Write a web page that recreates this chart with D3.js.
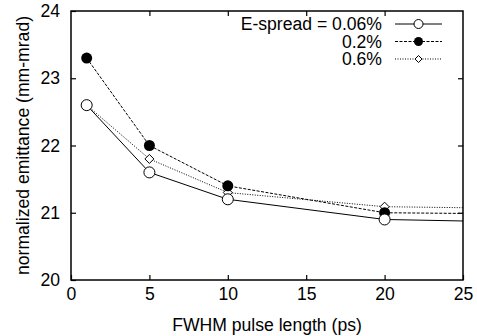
<!DOCTYPE html>
<html>
<head>
<meta charset="utf-8">
<script src="https://cdn.jsdelivr.net/npm/d3@7"></script>
<style>
  body { margin: 0; background: #fff; }
  text { font-family: "Liberation Sans", Arial, sans-serif; fill: #000; }
</style>
</head>
<body>
<script>
var width = 477,
    height = 336;

var margin = {left: 71, right: 14, top: 11, bottom: 56};
var fontSize = 17.6;

// pulse length (ps)
var pulseLength = [1, 5, 10, 20, 40];
// normalized emittance for each energy spread
var emit006 = [22.6, 21.6, 21.2, 20.9, 20.81];
var emit02  = [23.3, 22.0, 21.4, 21.0, 20.96];
var emit06  = [22.6, 21.8, 21.3, 21.09, 21.03];

var seriesLabels = ["E-spread = 0.06%", "0.2%", "0.6%"];
var xTicks = [0, 5, 10, 15, 20, 25];
var yTicks = [20, 21, 22, 23, 24];

var series = [
  {name: seriesLabels[0], values: emit006, dash: null, marker: "open"},
  {name: seriesLabels[1], values: emit02, dash: "3,1.5", marker: "filled"},
  {name: seriesLabels[2], values: emit06, dash: "1,1.5", marker: "diamond"}
];

var svg = d3.select("body").append("svg")
    .attr("width", width)
    .attr("height", height);

var x = d3.scaleLinear().domain([0, 25]).range([margin.left, width - margin.right]);
var y = d3.scaleLinear().domain([20, 24]).range([height - margin.bottom, margin.top]);

svg.append("clipPath").attr("id", "clip")
  .append("rect")
    .attr("x", x(0)).attr("y", y(24))
    .attr("width", x(25) - x(0)).attr("height", y(20) - y(24));

// axes with inward ticks, mirrored on top and right
var tickLen = 5;
svg.append("g")
    .attr("transform", "translate(0," + y(20) + ")")
    .call(d3.axisBottom(x).tickValues(xTicks).tickSizeInner(-tickLen).tickSizeOuter(0).tickPadding(8).tickFormat(d3.format("d")))
    .call(function(g){ g.select(".domain").remove(); g.selectAll("text").attr("dy", "0.71em"); });

svg.append("g")
    .attr("transform", "translate(0," + y(24) + ")")
    .call(d3.axisTop(x).tickValues(xTicks.slice(1, -1)).tickSizeInner(-tickLen).tickSizeOuter(0).tickFormat(""))
    .call(function(g){ g.select(".domain").remove(); });

svg.append("g")
    .attr("transform", "translate(" + x(0) + ",0)")
    .call(d3.axisLeft(y).tickValues(yTicks).tickSizeInner(-tickLen).tickSizeOuter(0).tickPadding(11).tickFormat(d3.format("d")))
    .call(function(g){ g.select(".domain").remove(); });

svg.append("g")
    .attr("transform", "translate(" + x(25) + ",0)")
    .call(d3.axisRight(y).tickValues(yTicks.slice(1, -1)).tickSizeInner(-tickLen).tickSizeOuter(0).tickFormat(""))
    .call(function(g){ g.select(".domain").remove(); });

svg.selectAll(".tick line").attr("stroke", "#000").attr("stroke-width", 1.2);
svg.selectAll(".tick text")
    .attr("font-family", "Liberation Sans, Arial, sans-serif")
    .attr("font-size", fontSize);

svg.append("rect")
    .attr("x", x(0)).attr("y", y(24))
    .attr("width", x(25) - x(0)).attr("height", y(20) - y(24))
    .attr("fill", "none").attr("stroke", "#000").attr("stroke-width", 1.5);

// axis titles
svg.append("text")
    .attr("x", (x(0) + x(25)) / 2)
    .attr("y", 331)
    .attr("text-anchor", "middle")
    .attr("font-size", fontSize)
    .text("FWHM pulse length (ps)");

svg.append("text")
    .attr("transform", "translate(29," + ((y(20) + y(24)) / 2) + ") rotate(-90)")
    .attr("text-anchor", "middle")
    .attr("font-size", fontSize)
    .text("normalized emittance (mm-mrad)");

var line = d3.line()
    .x(function(d){ return x(d.x); })
    .y(function(d){ return y(d.y); });

function drawMarker(g, type, cx, cy, r)
{
  if(type == "open")
    g.append("circle").attr("cx", cx).attr("cy", cy).attr("r", r)
      .attr("fill", "#fff").attr("stroke", "#000").attr("stroke-width", 1);
  else if(type == "filled")
    g.append("circle").attr("cx", cx).attr("cy", cy).attr("r", r)
      .attr("fill", "#000");
  else
  {
    var h = r - 1;
    g.append("path").attr("d", "M" + cx + "," + (cy - h) + "L" + (cx + h) + "," + cy + "L" + cx + "," + (cy + h) + "L" + (cx - h) + "," + cy + "Z")
      .attr("fill", "#fff").attr("stroke", "#000").attr("stroke-width", 1);
  }
}

var plot = svg.append("g").attr("clip-path", "url(#clip)");

// draw in reverse so the open circles sit on top like the original
series.slice().reverse().forEach(function(s)
{
  var pts = pulseLength.map(function(p, i){ return {x: p, y: s.values[i]}; });
  plot.append("path")
    .datum(pts)
    .attr("d", line)
    .attr("fill", "none")
    .attr("stroke", "#000")
    .attr("stroke-width", 1)
    .attr("stroke-dasharray", s.dash);
  pts.forEach(function(d){ drawMarker(plot, s.marker, x(d.x), y(d.y), 5.5); });
});

// legend
var legX1 = 395, legX2 = 442, legTextX = 382;
series.forEach(function(s, i)
{
  var ly = 24 + i * 17.5;
  svg.append("text")
    .attr("x", legTextX).attr("y", ly + 6)
    .attr("text-anchor", "end")
    .attr("font-size", fontSize)
    .text(s.name);
  svg.append("line")
    .attr("x1", legX1).attr("x2", legX2).attr("y1", ly).attr("y2", ly)
    .attr("stroke", "#000").attr("stroke-width", 1)
    .attr("stroke-dasharray", s.dash);
  drawMarker(svg, s.marker, (legX1 + legX2) / 2, ly, 4.5);
});
</script>
</body>
</html>
